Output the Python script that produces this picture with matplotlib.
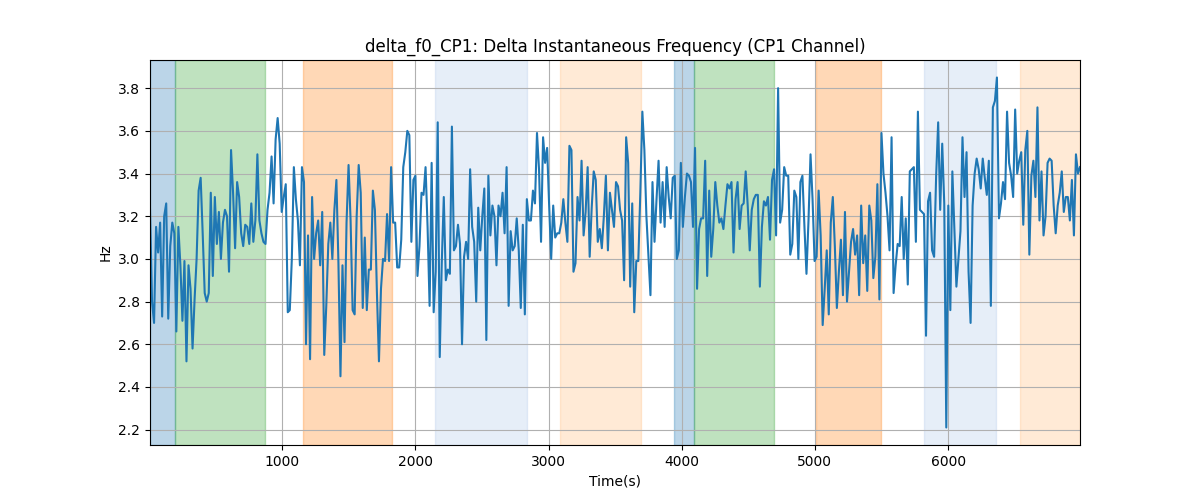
import numpy as np
import matplotlib
matplotlib.use("Agg")
import matplotlib.pyplot as plt
from matplotlib.ticker import MultipleLocator

t_start = 8.0
t_end = 6990.0

values = [
    # 0 - ~1000 s
    3.23, 2.80, 2.70, 3.15, 3.03, 3.17, 2.73, 3.20, 3.26, 2.72,
    3.06, 3.17, 3.12, 2.66, 3.15, 2.97, 2.71, 2.99, 2.52, 2.97,
    2.86, 2.58, 2.81, 3.00, 3.32, 3.38, 3.12, 2.84, 2.80, 2.84,
    3.31, 2.92, 3.29, 3.07, 3.22, 3.00, 3.17, 3.23, 3.20, 2.94,
    3.51, 3.31, 3.05, 3.36, 3.29, 3.12, 3.06, 3.16, 3.15, 3.07,
    3.26, 3.08, 3.18, 3.49, 3.18, 3.12, 3.08, 3.07, 3.23, 3.31,
    3.48, 3.26, 3.56,
    # ~1000 - 2000 s
    3.66, 3.54, 3.22, 3.29, 3.35, 2.75, 2.76, 3.00, 3.43, 3.28,
    3.18, 2.97, 3.43, 3.36, 2.60, 3.11, 2.53, 3.29, 3.00, 3.12,
    3.18, 2.97, 3.22, 2.55, 2.78, 3.07, 3.17, 3.00, 3.23, 3.37,
    2.98, 2.45, 2.97, 2.61, 3.17, 3.44, 3.18, 2.76, 2.74, 3.20,
    3.44, 3.31, 2.77, 3.10, 2.76, 2.95, 2.95, 3.32, 3.23, 2.84,
    2.52, 2.86, 3.00, 2.99, 3.21, 2.99, 3.43, 3.17, 3.17, 2.96,
    2.96, 3.09, 3.43, 3.50, 3.60, 3.58,
    # ~2000 - 3000 s
    3.08, 3.37, 3.39, 2.92, 3.06, 3.31, 3.30, 3.43, 3.15, 2.78,
    3.45, 2.75, 2.94, 3.64, 2.54, 2.98, 3.29, 2.90, 2.95, 2.93,
    3.62, 3.04, 3.06, 3.16, 3.07, 2.60, 3.01, 3.08, 3.00, 3.42,
    3.15, 3.08, 2.80, 3.24, 3.04, 3.20, 3.33, 2.62, 3.39, 3.11,
    3.25, 3.20, 2.97, 3.25, 3.20, 3.31, 3.12, 3.43, 2.78, 3.13,
    3.04, 3.06, 3.19, 3.04, 2.77, 3.16, 2.74, 3.28, 3.18, 3.18,
    3.32, 3.26, 3.59, 3.42, 3.08, 3.57,
    # ~3000 - 4000 s
    3.45, 3.52, 3.25, 3.00, 3.25, 3.10, 3.12, 3.12, 3.17, 3.28,
    3.17, 3.08, 3.53, 3.51, 2.94, 2.98, 3.29, 3.18, 3.46, 3.11,
    3.22, 3.43, 3.01, 3.24, 3.41, 3.37, 3.08, 3.14, 3.05, 3.20,
    3.39, 3.04, 3.31, 3.23, 3.15, 3.36, 3.34, 3.23, 3.18, 2.90,
    3.57, 3.45, 2.87, 3.26, 2.75, 2.99, 2.99, 3.31, 3.69, 3.51,
    3.20, 3.01, 2.83, 3.36, 3.08, 3.28, 3.46, 3.17, 3.36, 3.15,
    3.43, 3.29, 3.19, 3.38, 3.39, 3.00, 3.04, 3.45,
    # ~4000 - 5000 s
    3.15, 3.29, 3.40, 3.39, 3.36, 3.15, 3.52, 2.86, 3.14, 3.19,
    3.19, 3.46, 2.92, 3.32, 3.01, 3.14, 3.36, 3.25, 3.17, 3.19,
    3.14, 3.25, 3.35, 3.33, 3.36, 3.03, 3.28, 3.36, 3.14, 3.25,
    3.26, 3.41, 3.25, 3.04, 3.23, 3.28, 3.30, 3.30, 2.87, 3.15,
    3.27, 3.25, 3.29, 3.09, 3.37, 3.42, 3.11, 3.80, 3.17, 3.23,
    3.43, 3.39, 3.39, 3.02, 3.07, 3.32, 3.29, 3.00, 3.36, 3.39,
    3.15, 2.93, 3.18, 3.49, 3.28, 2.99, 3.01,
    # ~5000 - 6000 s
    3.32, 3.11, 2.69, 2.86, 3.04, 2.74, 3.17, 3.29, 3.06, 2.77,
    2.94, 3.09, 2.83, 3.22, 2.80, 2.94, 3.08, 3.14, 3.02, 3.11,
    2.83, 3.25, 2.98, 3.11, 2.85, 3.25, 3.18, 2.91, 3.01, 3.35,
    2.81, 3.59, 3.40, 3.31, 3.20, 3.04, 3.57, 2.84, 2.97, 3.07,
    3.06, 3.29, 3.00, 3.19, 2.88, 3.41, 3.42, 3.43, 3.08, 3.69,
    3.23, 3.22, 3.21, 2.64, 3.27, 3.31, 3.04, 3.01, 3.39, 3.64,
    3.23, 3.54, 3.26, 2.21, 3.25, 2.76,
    # ~6000 - 7000 s
    3.41, 3.14, 2.87, 3.00, 3.13, 3.57, 3.29, 3.50, 2.94, 2.70,
    3.25, 3.40, 3.47, 3.42, 3.33, 3.47, 3.38, 3.30, 3.46, 2.78,
    3.71, 3.74, 3.85, 3.19, 3.26, 3.36, 3.28, 3.69, 3.45, 3.39,
    3.29, 3.70, 3.40, 3.46, 3.50, 3.16, 3.51, 3.60, 3.02, 3.39,
    3.46, 3.29, 3.71, 3.18, 3.41, 3.11, 3.20, 3.45, 3.47, 3.46,
    3.25, 3.12, 3.25, 3.31, 3.41, 3.22, 3.29, 3.29, 3.18, 3.37,
    3.11, 3.49, 3.40, 3.43,
]

span_starts = [8, 195, 1158, 2150, 3083, 3940, 4090, 5008, 5820, 6541]
span_ends = [195, 872, 1827, 2835, 3692, 4090, 4692, 5496, 6361, 6990]
span_colors = ["tab:blue", "tab:green", "tab:orange", "#aec7e8", "#ffbb78",
               "tab:blue", "tab:green", "tab:orange", "#aec7e8", "#ffbb78"]

times = np.linspace(t_start, t_end, len(values))

fig, ax = plt.subplots(figsize=(12, 5), dpi=100)
for s, e, c in zip(span_starts, span_ends, span_colors):
    ax.axvspan(s, e, color=c, alpha=0.3)
ax.plot(times, values, color="tab:blue", linewidth=1.5)
ax.set_xlim(times[0], times[-1])
ax.yaxis.set_major_locator(MultipleLocator(0.2))
ax.grid(True)
ax.set_title("delta_f0_CP1: Delta Instantaneous Frequency (CP1 Channel)")
ax.set_xlabel("Time(s)")
ax.set_ylabel("Hz")
fig.savefig("out.png", dpi=100)
